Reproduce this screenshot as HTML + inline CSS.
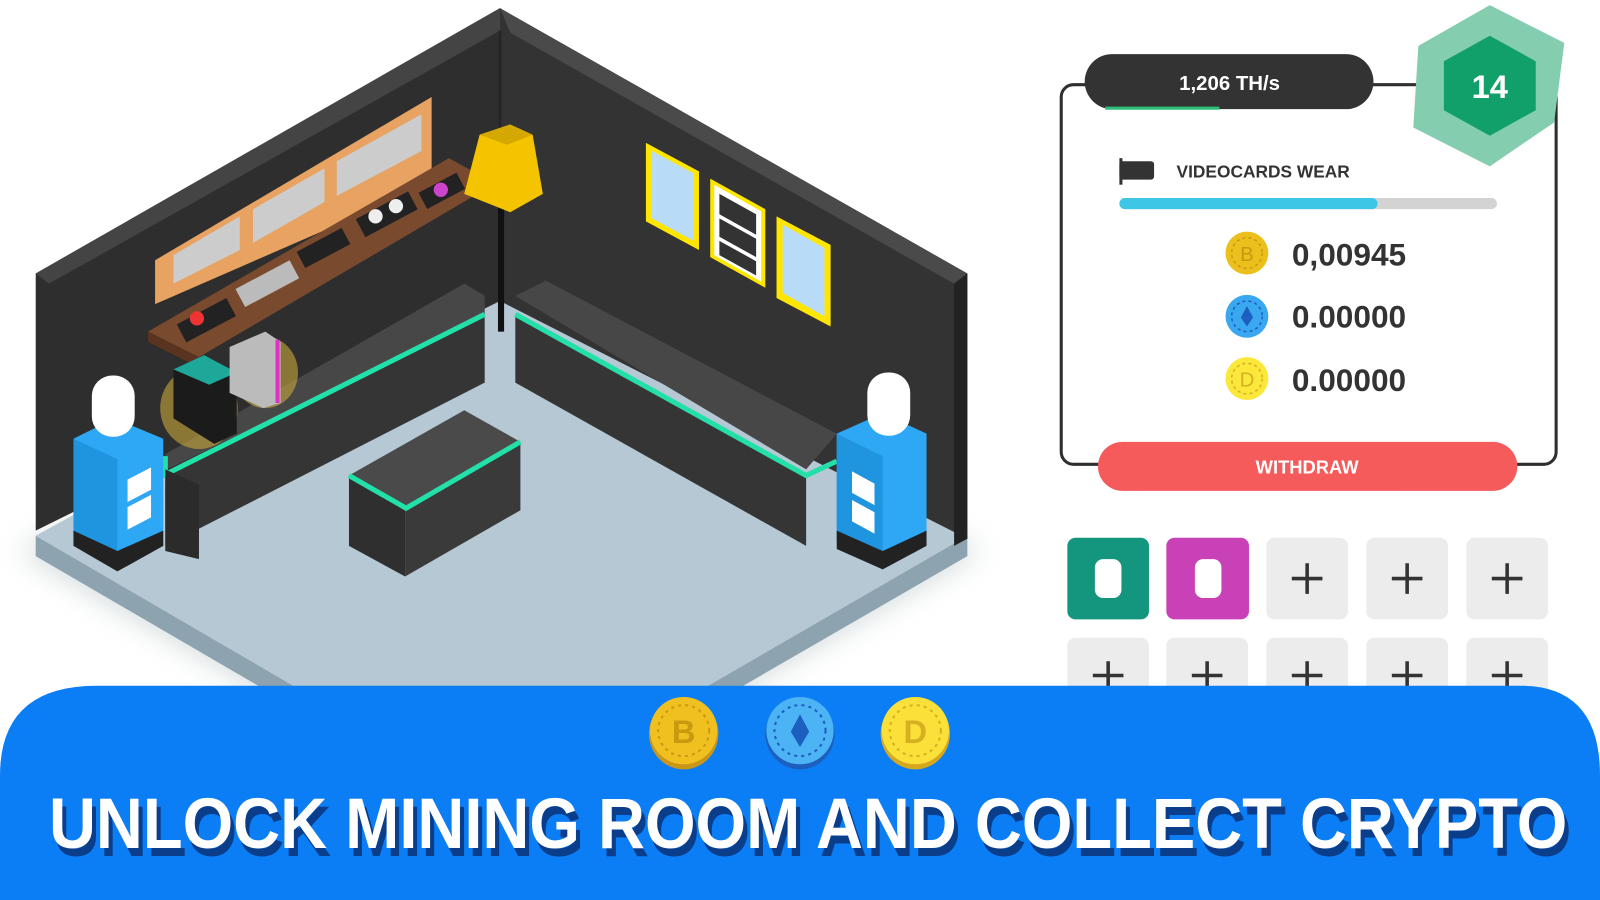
<!DOCTYPE html>
<html><head><meta charset="utf-8"><style>
html,body{margin:0;padding:0;background:#fff;width:1600px;height:900px;overflow:hidden}
svg{display:block}
text{font-family:"Liberation Sans",sans-serif}
</style></head><body>
<svg width="1600" height="900" viewBox="0 0 1568 882" xmlns="http://www.w3.org/2000/svg">
<defs>
<filter id="blur" x="-20%" y="-20%" width="140%" height="140%"><feGaussianBlur stdDeviation="14"/></filter>
</defs>
<rect width="1568" height="882" fill="#fff"/>
<polygon points="20,540 490,810 960,540 490,300" fill="#9aa" opacity="0.45" filter="url(#blur)"/>
<polygon points="35,525 490,790 948,525 948,545 490,810 35,545" fill="#8ea3b0"/>
<polygon points="35,525 490,275 948,525 490,790" fill="#b5c8d4"/>
<polygon points="35,268 490,8 490,295 35,520" fill="#2e2e2e"/>
<polygon points="35,268 490,8 490,30 48,278" fill="#444"/>
<polygon points="490,8 948,268 948,528 490,295" fill="#333"/>
<polygon points="490,8 948,268 935,278 500,32" fill="#4a4a4a"/>
<polygon points="935,278 948,268 948,528 935,535" fill="#222"/>
<line x1="490" y1="30" x2="490" y2="295" stroke="#262626" stroke-width="3"/>
<polygon points="152,255 423,95 423,180 152,298" fill="#e8a362"/>
<polygon points="170,250 235,212 235,245 170,278" fill="#ccc"/>
<polygon points="248,205 318,165 318,198 248,238" fill="#ccc"/>
<polygon points="330,158 413,112 413,148 330,192" fill="#ccc"/>
<polygon points="145,325 440,155 485,180 195,350" fill="#7a4a2e"/>
<polygon points="145,325 195,350 195,360 145,335" fill="#5a3420"/>
<rect x="175" y="305" width="55" height="20" fill="#222" transform="rotate(-28 200 315)"/>
<circle cx="193" cy="312" r="7" fill="#e33"/>
<rect x="232" y="268" width="60" height="20" fill="#bbb" transform="rotate(-28 262 278)"/>
<rect x="292" y="234" width="50" height="18" fill="#222" transform="rotate(-28 317 243)"/>
<rect x="350" y="200" width="58" height="20" fill="#222" transform="rotate(-28 379 210)"/>
<circle cx="368" cy="212" r="7" fill="#eee"/><circle cx="388" cy="202" r="7" fill="#eee"/>
<rect x="412" y="178" width="42" height="18" fill="#222" transform="rotate(-28 433 187)"/>
<circle cx="432" cy="186" r="7" fill="#c4c"/>
<rect x="488" y="200" width="6" height="125" fill="#111"/>
<polygon points="470,132 500,122 522,132 532,190 500,208 455,190" fill="#f5c400"/>
<polygon points="470,132 500,122 522,132 497,142" fill="#d4a800"/>
<polygon points="633,140 685,168 685,245 633,217" fill="#ffe600"/>
<polygon points="639,148 680,170 680,236 639,214" fill="#b8dcf7"/>
<polygon points="696,175 750,205 750,282 696,252" fill="#ffe600"/>
<polygon points="700,181 746,207 746,276 700,250" fill="#fff"/>
<polygon points="705,190 741,210 741,230 705,210" fill="#333"/>
<polygon points="705,214 741,234 741,252 705,232" fill="#333"/>
<polygon points="705,236 741,256 741,270 705,250" fill="#333"/>
<polygon points="761,212 814,240 814,320 761,292" fill="#ffe600"/>
<polygon points="767,220 808,243 808,310 767,287" fill="#b8dcf7"/>
<polygon points="162,445 455,278 475,290 475,310 162,460" fill="#474747"/>
<polygon points="162,460 475,310 475,375 162,535 " fill="#353535"/>
<polyline points="162,447 162,465 475,308" fill="none" stroke="#22e0a8" stroke-width="5"/>
<polygon points="162,460 162,540 195,548 195,475" fill="#2b2b2b"/>
<ellipse cx="195" cy="400" rx="38" ry="40" fill="#c9a83a" opacity="0.6"/>
<ellipse cx="260" cy="365" rx="32" ry="35" fill="#c9a83a" opacity="0.6"/>
<polygon points="170,362 200,348 232,370 232,425 210,435 170,410" fill="#1b1b1b"/>
<polygon points="170,362 200,348 232,365 205,377" fill="#1ea89a"/>
<polygon points="225,340 260,325 275,335 275,395 258,400 225,385" fill="#bbb"/>
<line x1="272" y1="333" x2="272" y2="395" stroke="#e030c8" stroke-width="4"/>
<polygon points="505,290 535,275 820,425 790,460" fill="#474747"/>
<polygon points="505,310 790,465 790,535 505,375" fill="#353535"/>
<polyline points="505,308 790,466 820,452" fill="none" stroke="#22e0a8" stroke-width="5"/>
<polygon points="342,466 455,402 510,433 397,498" fill="#4a4a4a"/>
<polygon points="342,466 397,498 397,565 342,535" fill="#2f2f2f"/>
<polygon points="397,498 510,433 510,500 397,565" fill="#3a3a3a"/>
<polyline points="342,466 398,498 510,433" fill="none" stroke="#22e0a8" stroke-width="5"/>
<polygon points="72,430 112,410 160,430 160,535 115,555 72,530" fill="#2ea8f5"/>
<polygon points="72,430 115,450 115,555 72,530" fill="#1f95e0"/>
<polygon points="72,520 115,540 160,520 160,535 115,560 72,535" fill="#222"/>
<rect x="90" y="368" width="42" height="60" rx="20" fill="#fff"/>
<polygon points="125,470 148,458 148,480 125,492" fill="#fff"/><polygon points="125,497 148,485 148,507 125,519" fill="#fff"/>
<polygon points="820,425 865,405 908,425 908,530 865,550 820,530" fill="#2ea8f5"/>
<polygon points="820,425 865,447 865,550 820,530" fill="#1f95e0"/>
<polygon points="820,520 865,540 908,520 908,535 865,558 820,538" fill="#222"/>
<rect x="850" y="365" width="42" height="62" rx="20" fill="#fff"/>
<polygon points="835,462 857,474 857,495 835,483" fill="#fff"/><polygon points="835,490 857,502 857,523 835,511" fill="#fff"/>

<rect x="1040" y="83" width="485" height="372" rx="12" fill="#fff" stroke="#2f2f2f" stroke-width="3"/>
<rect x="1063" y="53" width="283" height="54" rx="27" fill="#333"/>
<line x1="1083" y1="106" x2="1195" y2="106" stroke="#2fbf7a" stroke-width="3"/>
<text x="1205" y="88" text-anchor="middle" fill="#fff" font-size="20" font-weight="bold">1,206 TH/s</text>
<polygon points="1460,5 1533,42 1523,120 1460,163 1385,125 1390,45" fill="#84cdaf"/>
<polygon points="1460,35 1505,60 1505,108 1460,133 1415,108 1415,60" fill="#12a06a"/>
<text x="1460" y="96" text-anchor="middle" fill="#fff" font-size="32" font-weight="bold">14</text>
<rect x="1097" y="158" width="34" height="18" rx="3" fill="#333"/><rect x="1097" y="155" width="3" height="26" fill="#333"/>
<text x="1153" y="174" fill="#333" font-size="17" font-weight="bold">VIDEOCARDS WEAR</text>
<rect x="1097" y="194" width="370" height="11" rx="5.5" fill="#d3d3d3"/>
<rect x="1097" y="194" width="253" height="11" rx="5.5" fill="#3ec6e6"/>
<circle cx="1222" cy="248" r="21" fill="#ecc01c"/><circle cx="1222" cy="248" r="15" fill="none" stroke="#c99a10" stroke-dasharray="3 3" stroke-width="1.5"/><text x="1222" y="256" text-anchor="middle" font-size="20" fill="#c99a10">B</text>
<circle cx="1222" cy="310" r="21" fill="#3aa8f0"/><circle cx="1222" cy="310" r="15" fill="none" stroke="#1d5fbf" stroke-dasharray="3 3" stroke-width="1.5"/><polygon points="1222,300 1228,311 1222,320 1216,311" fill="#1d5fbf"/>
<circle cx="1222" cy="371" r="21" fill="#fbe83a"/><circle cx="1222" cy="371" r="15" fill="none" stroke="#d6b020" stroke-dasharray="3 3" stroke-width="1.5"/><text x="1222" y="379" text-anchor="middle" font-size="20" fill="#d6b020">D</text>
<text x="1266" y="260" fill="#333" font-size="31" font-weight="bold">0,00945</text>
<text x="1266" y="321" fill="#333" font-size="31" font-weight="bold">0.00000</text>
<text x="1266" y="383" fill="#333" font-size="31" font-weight="bold">0.00000</text>
<rect x="1076" y="433" width="411" height="48" rx="24" fill="#f55b5b"/>
<text x="1281" y="464" text-anchor="middle" fill="#fff" font-size="18" font-weight="bold">WITHDRAW</text>
<rect x="1046" y="527" width="80" height="80" rx="8" fill="#13967d"/><rect x="1073" y="548" width="26" height="38" rx="8" fill="#fff"/>
<rect x="1143" y="527" width="81" height="80" rx="8" fill="#c941b6"/><rect x="1171" y="548" width="26" height="38" rx="8" fill="#fff"/>
<g fill="#ececec"><rect x="1241" y="527" width="80" height="80" rx="8"/><rect x="1339" y="527" width="80" height="80" rx="8"/><rect x="1437" y="527" width="80" height="80" rx="8"/>
<rect x="1046" y="625" width="80" height="80" rx="8"/><rect x="1143" y="625" width="80" height="80" rx="8"/><rect x="1241" y="625" width="80" height="80" rx="8"/><rect x="1339" y="625" width="80" height="80" rx="8"/><rect x="1437" y="625" width="80" height="80" rx="8"/></g>
<g stroke="#333" stroke-width="3.5"><path d="M1266 567h30M1281 552v30M1364 567h30M1379 552v30M1462 567h30M1477 552v30"/>
<path d="M1071 662h30M1086 648v30M1168 662h30M1183 648v30M1266 662h30M1281 648v30M1364 662h30M1379 648v30M1462 662h30M1477 648v30"/></g>
<path d="M0,882 L0,760 Q0,672 95,672 L1490,672 Q1568,672 1568,760 L1568,882 Z" fill="#0b7ef5"/>
<g>
<ellipse cx="670" cy="719" rx="34" ry="35" fill="#c9961a"/><circle cx="670" cy="716" r="33" fill="#f0c020"/><circle cx="670" cy="716" r="25" fill="none" stroke="#c99a10" stroke-dasharray="3 4" stroke-width="2"/><text x="670" y="728" text-anchor="middle" font-size="32" font-weight="bold" fill="#c99a10">B</text>
<ellipse cx="784" cy="719" rx="34" ry="35" fill="#1d5fbf"/><circle cx="784" cy="716" r="33" fill="#4cb4f5"/><circle cx="784" cy="716" r="25" fill="none" stroke="#1d5fbf" stroke-dasharray="3 4" stroke-width="2"/><polygon points="784,700 793,717 784,732 775,717" fill="#1d5fbf"/>
<ellipse cx="897" cy="719" rx="34" ry="35" fill="#d6a820"/><circle cx="897" cy="716" r="33" fill="#fbe03a"/><circle cx="897" cy="716" r="25" fill="none" stroke="#d6b020" stroke-dasharray="3 4" stroke-width="2"/><text x="897" y="728" text-anchor="middle" font-size="32" font-weight="bold" fill="#d6b020">D</text>
</g>
<text x="52" y="839" textLength="1488" lengthAdjust="spacingAndGlyphs" font-size="70" font-weight="bold" fill="#0a3d8a">UNLOCK MINING ROOM AND COLLECT CRYPTO</text>
<text x="48" y="831" textLength="1488" lengthAdjust="spacingAndGlyphs" font-size="70" font-weight="bold" fill="#fff">UNLOCK MINING ROOM AND COLLECT CRYPTO</text>
</svg>
</body></html>
